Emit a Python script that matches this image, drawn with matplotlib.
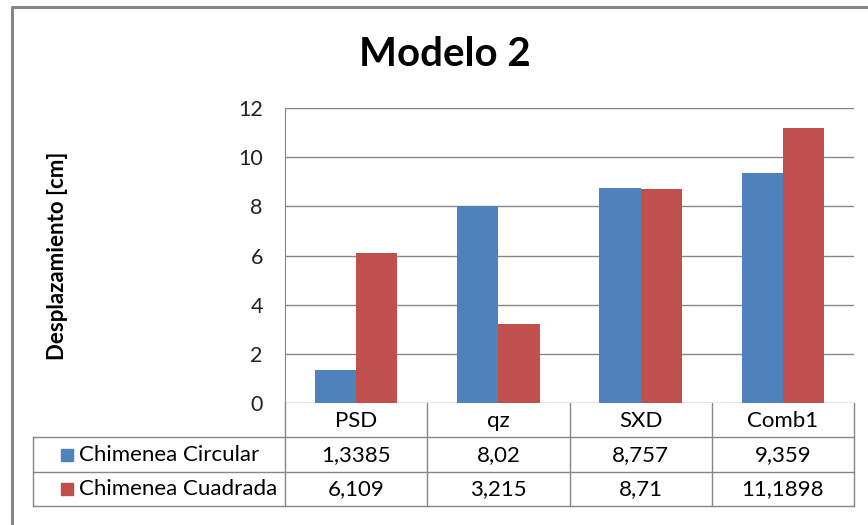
import matplotlib.pyplot as plt
import numpy as np
from matplotlib.transforms import blended_transform_factory

# datos del modelo 2
categorias = ["PSD", "qz", "SXD", "Comb1"]
circular = [1.3385, 8.02, 8.757, 9.359]
cuadrada = [6.109, 3.215, 8.71, 11.1898]
etiquetas_circular = ["1,3385", "8,02", "8,757", "9,359"]
etiquetas_cuadrada = ["6,109", "3,215", "8,71", "11,1898"]
series = ["Chimenea Circular", "Chimenea Cuadrada"]

AZUL = "#4F81BD"
ROJO = "#C0504D"
GRIS = "#868686"
W, H = 868, 525

plt.rcParams['font.family'] = ['Lato', 'DejaVu Sans']

fig = plt.figure(figsize=(W / 100, H / 100), dpi=100)

# capa en pixeles para bordes y tabla
capa = fig.add_axes([0, 0, 1, 1])
capa.set_xlim(0, W)
capa.set_ylim(H, 0)
capa.axis('off')

# area del grafico
x0, x1, ytop, ybot = 285, 854, 108, 403
ax = fig.add_axes([x0 / W, 1 - ybot / H, (x1 - x0) / W, (ybot - ytop) / H])
x = np.arange(len(categorias))
ancho = 0.29
ax.bar(x - ancho / 2, circular, ancho, color=AZUL, zorder=3)
ax.bar(x + ancho / 2, cuadrada, ancho, color=ROJO, zorder=3)
ax.set_xlim(-0.5, len(categorias) - 0.5)
ax.set_ylim(0, 12)
ax.set_yticks(range(0, 13, 2))
ax.yaxis.grid(True, color=GRIS, linewidth=1)
ax.set_axisbelow(True)
ax.set_xticks([])
for s in ["top", "right", "bottom"]:
    ax.spines[s].set_visible(False)
ax.spines["left"].set_color(GRIS)
ax.tick_params(axis='y', length=0, pad=16, labelsize=15.5, labelcolor="#222222")

fig.text(445 / W, 1 - 55 / H, "Modelo 2", ha='center', va='center',
         fontsize=29, fontweight='bold')
fig.text(58 / W, 1 - 256 / H, "Desplazamiento [cm]", rotation=90,
         ha='center', va='center', fontsize=16, fontweight='bold')

# borde exterior
capa.plot([12, 12, W], [H, 7, 7], color=GRIS, linewidth=2.2, solid_capstyle='butt')

# tabla de datos
lc = dict(color=GRIS, linewidth=1)
cols = [x0 + (x1 - x0) * i / len(categorias) for i in range(len(categorias) + 1)]
capa.plot([33, x1], [437, 437], **lc)
capa.plot([33, x1], [472, 472], **lc)
capa.plot([33, x1], [506, 506], **lc)
capa.plot([33, 33], [437, 506], **lc)
for c in cols:
    capa.plot([c, c], [403, 506], **lc)

trans = blended_transform_factory(ax.transData, capa.transData)
for i, cat in enumerate(categorias):
    ax.text(i, 421, cat, transform=trans, ha='center', va='center', fontsize=16)
    ax.text(i, 455, etiquetas_circular[i], transform=trans, ha='center', va='center', fontsize=16)
    ax.text(i, 489, etiquetas_cuadrada[i], transform=trans, ha='center', va='center', fontsize=16)

for yc, nombre, color in [(455, series[0], AZUL), (489, series[1], ROJO)]:
    capa.add_patch(plt.Rectangle((61, yc - 6), 12, 12, color=color))
    capa.text(79, yc, nombre, ha='left', va='center', fontsize=16)

fig.savefig("out.png", dpi=100)
